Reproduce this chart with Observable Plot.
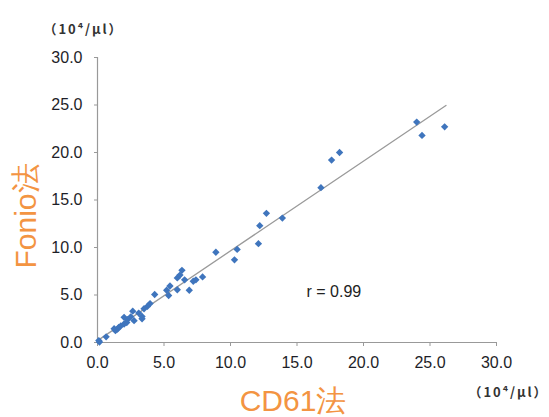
<!DOCTYPE html>
<html>
<head>
<meta charset="utf-8">
<script src="https://cdn.jsdelivr.net/npm/d3@7"></script>
<script src="https://cdn.jsdelivr.net/npm/@observablehq/plot@0.6"></script>
<style>
  html, body { margin: 0; padding: 0; background: #fff; }
  #chart { width: 549px; height: 417px; }
</style>
</head>
<body>
<div id="chart"></div>
<script>
// CD61法 (x) vs Fonio法 (y), 10^4/μl
const cd61 = [26.1, 24.4, 24.0, 18.2, 17.6, 16.8, 13.9, 12.7, 12.2, 12.1, 10.5, 10.3, 8.9, 7.9, 7.4, 7.2, 6.9, 6.55, 6.35, 6.0, 6.2, 6.0, 5.45, 5.2, 5.35, 4.3, 3.95, 3.75, 3.5, 3.35, 3.35, 2.65, 2.75, 2.25, 2.0, 2.0, 1.75, 1.5, 1.25, 1.6, 2.2, 1.35, 0.65, 0.15, 0.1, 3.1, 2.5];
const fonio = [22.7, 21.8, 23.2, 20.0, 19.2, 16.3, 13.1, 13.6, 12.3, 10.4, 9.8, 8.7, 9.5, 6.9, 6.6, 6.45, 5.5, 6.6, 7.6, 6.8, 7.1, 5.55, 5.95, 5.5, 4.95, 5.05, 4.1, 3.8, 3.55, 2.75, 2.5, 3.3, 2.3, 2.4, 2.65, 1.95, 1.75, 1.4, 1.45, 1.6, 2.1, 1.25, 0.6, 0.05, 0.2, 3.1, 2.7];
const trendX = [0, 26.2];
const trendY = [0.2, 24.95];
const xTicks = [0, 5, 10, 15, 20, 25, 30];
const yTicks = [0, 5, 10, 15, 20, 25, 30];
const xTitle = "CD61法";
const yTitle = "Fonio法";
const unitLabel = "（10⁴/μl）";
const rLabel = "r = 0.99";

const points = cd61.map((x, i) => ({x, y: fonio[i]}));
const trend = trendX.map((x, i) => ({x, y: trendY[i]}));
const fmt = d => d.toFixed(1);
const titleFont = "'Liberation Sans', Arial, sans-serif";
const unitFont = "'Noto Sans CJK JP', 'Liberation Sans', sans-serif";

const chart = Plot.plot({
  width: 549,
  height: 417,
  marginLeft: 97,
  marginRight: 53,
  marginTop: 57,
  marginBottom: 75,
  style: {fontFamily: "'Liberation Sans', Arial, sans-serif", background: "#fff", overflow: "visible"},
  x: {domain: [0, 30]},
  y: {domain: [0, 30]},
  marks: [
    Plot.axisX({ticks: xTicks, tickFormat: fmt, tickSize: 4, tickPadding: 10, fontSize: 16, stroke: "#999", fill: "#1e1e28", label: null}),
    Plot.axisY({ticks: yTicks, tickFormat: fmt, tickSize: 3, tickPadding: 12, fontSize: 16, stroke: "#999", fill: "#1e1e28", label: null}),
    Plot.ruleX([0], {stroke: "#999", strokeWidth: 1.2}),
    Plot.ruleY([0], {stroke: "#999", strokeWidth: 1.2}),
    Plot.line(trend, {x: "x", y: "y", stroke: "#9a9a9a", strokeWidth: 1.3}),
    Plot.dot(points, {x: "x", y: "y", symbol: "diamond2", r: 3.3, fill: "#3f75bd", stroke: "none"}),
    Plot.text([rLabel], {text: d => d, frameAnchor: "top-left", textAnchor: "start", lineAnchor: "middle", dx: 209, dy: 234, fontSize: 16, fill: "#222"}),
    Plot.text([unitLabel], {text: d => d, frameAnchor: "top-left", textAnchor: "start", lineAnchor: "middle", dx: -54, dy: -28, fontSize: 13, fontWeight: "bold", fontFamily: unitFont, fill: "#333"}),
    Plot.text([unitLabel], {text: d => d, frameAnchor: "bottom-right", textAnchor: "start", lineAnchor: "middle", dx: -28, dy: 50, fontSize: 13, fontWeight: "bold", fontFamily: unitFont, fill: "#333"}),
    Plot.text([yTitle], {text: d => d, frameAnchor: "left", textAnchor: "middle", lineAnchor: "middle", rotate: -90, dx: -71, dy: 16, fontSize: 30, fontFamily: titleFont, fill: "#f39442"}),
    Plot.text([xTitle], {text: d => d, frameAnchor: "bottom", textAnchor: "middle", lineAnchor: "middle", dx: -4, dy: 58.5, fontSize: 30, fontFamily: titleFont, fill: "#f39442"})
  ]
});

d3.select(chart).selectAll("text")
  .filter(function() { return this.textContent.includes("μ"); })
  .attr("textLength", 78)
  .attr("lengthAdjust", "spacing");

document.getElementById("chart").appendChild(chart);
</script>
</body>
</html>
